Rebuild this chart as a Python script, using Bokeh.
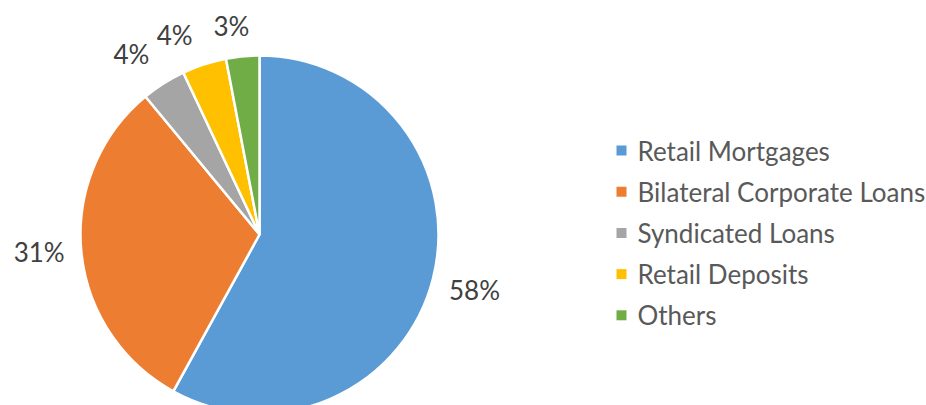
import math
from bokeh.plotting import figure
from bokeh.models import ColumnDataSource, Range1d
from bokeh.embed import file_html
from bokeh.resources import INLINE
from bokeh.core.properties import value

# ---- data ----
categories = ["Retail Mortgages", "Bilateral Corporate Loans", "Syndicated Loans",
              "Retail Deposits", "Others"]
shares = [58, 31, 4, 4, 3]
colors = ["#5B9BD5", "#ED7D31", "#A5A5A5", "#FFC000", "#70AD47"]

# ---- layout ----
W, H = 926, 405
FONT = "Lato"
cx_px, cy_px, R = 259, 234, 179          # pie centre / radius (pixels)
label_r = [222, 221, 221, 217, 210]
label_nudge_deg = [0, -0.8, 3, 5, 2.3]
leg_x_px, leg_y0_px, leg_dy = 616, 150, 41.2

def dy(py):
    return H - py

p = figure(width=W, height=H, output_backend="svg", toolbar_location=None,
           x_range=Range1d(0, W), y_range=Range1d(0, H), min_border=0)
p.axis.visible = False
p.grid.visible = False
p.outline_line_color = None
p.background_fill_color = "white"

total = float(sum(shares))
starts, ends, mids = [], [], []
a = math.pi / 2
for v in shares:
    span = 2 * math.pi * v / total
    starts.append(a - span)
    ends.append(a)
    mids.append(a - span / 2)
    a -= span

src = ColumnDataSource(dict(start=starts, end=ends, color=colors))
p.wedge(x=cx_px, y=dy(cy_px), radius=R, radius_units="screen",
        start_angle="start", end_angle="end", fill_color="color",
        line_color="white", line_width=2.5, source=src)

lx, ly, lt = [], [], []
for m, n, r, v in zip(mids, label_nudge_deg, label_r, shares):
    ang = m + math.radians(n)
    lx.append(cx_px + r * math.cos(ang))
    ly.append(dy(cy_px) + r * math.sin(ang))
    lt.append(f"{v}%")
p.text(x=lx, y=ly, text=lt, text_font=value(FONT), text_font_size="26px",
       text_color="#404040", text_align="center", text_baseline="middle")

# legend
ys = [dy(leg_y0_px + i * leg_dy) for i in range(len(categories))]
p.rect(x=[leg_x_px + 5] * len(categories), y=ys, width=10, height=10,
       width_units="screen", height_units="screen", fill_color=colors, line_color=None)
p.text(x=[leg_x_px + 21] * len(categories), y=ys, text=categories,
       text_font=value(FONT), text_font_size="26px", text_color="#595959",
       text_align="left", text_baseline="middle")

open("out.html", "w").write(file_html(p, INLINE))
